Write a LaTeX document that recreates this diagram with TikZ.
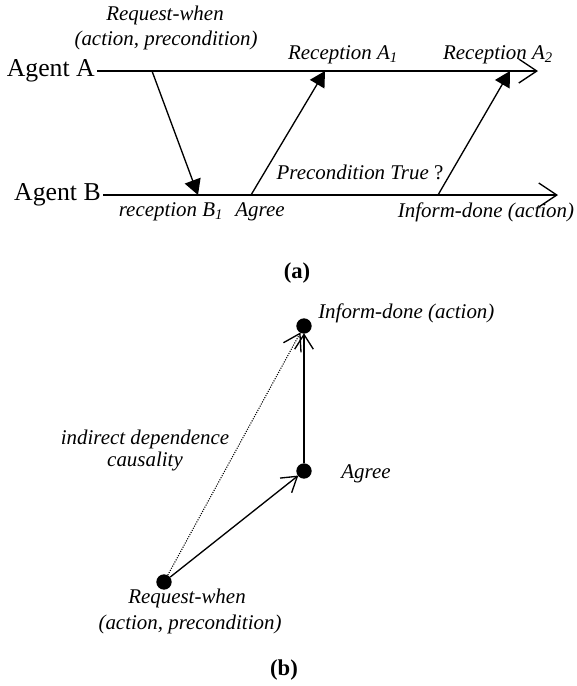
\documentclass[tikz,border=0pt]{standalone}
\usepackage{fontspec}
\setmainfont{Liberation Serif}
\usetikzlibrary{arrows.meta}

\tikzset{
  lbl/.style={inner sep=0pt, font=\fontsize{15.7pt}{17pt}\selectfont\itshape},
  agent/.style={inner sep=1.5pt, font=\fontsize{19.3pt}{21pt}\selectfont},
  caption/.style={inner sep=0pt, font=\fontsize{17pt}{19pt}\selectfont\bfseries},
  timeline/.style={line width=1pt, -{Straight Barb[length=13.5pt,width=18pt,line width=1pt]}},
  msg/.style={line width=1pt, -{Triangle[length=11.5pt,width=12.5pt]}},
  event/.style={circle, fill=black, inner sep=0pt, minimum size=11.5pt},
  dep/.style={line width=1pt, shorten >=-0.5pt, -{Straight Barb[length=11pt,width=14pt,line width=1pt]}},
  indirect/.style={line width=0.8pt, dash pattern=on 0.8pt off 1pt, shorten >=-0.5pt, -{Straight Barb[length=12pt,width=15pt,line width=1pt]}}
}

\begin{document}
\begin{tikzpicture}[x=0.75pt,y=-0.75pt]
  \useasboundingbox (0,0) rectangle (576,686);

  % ---------- (a) message exchange between the two agents ----------
  \coordinate (Aend) at (538,71);
  \coordinate (Bend) at (558,195);
  \node[agent, anchor=east] (agA) at (97,71) {Agent A};
  \node[agent, anchor=east] (agB) at (103,195) {Agent B};
  \draw[timeline] (agA.east) -- (Aend);
  \draw[timeline] (agB.east) -- (Bend);

  \coordinate (sendA)  at (152,71);
  \coordinate (recvB)  at (198,195);
  \coordinate (agreeB) at (251,195);
  \coordinate (recvA1) at (325,71);
  \coordinate (doneB)  at (438,195);
  \coordinate (recvA2) at (510,71);
  \draw[msg] (sendA) -- (recvB);
  \draw[msg] (agreeB) -- (recvA1);
  \draw[msg] (doneB) -- (recvA2);

  \node[lbl] (reqA)  at (165,15) {Request-when};
  \node[lbl] (reqA2) at (166,40) {(action, precondition)};
  \node[lbl] (ra1)   at (343,55) {Reception A\textsubscript{1}};
  \node[lbl] (ra2)   at (498,55) {Reception A\textsubscript{2}};
  \node[lbl] (pre)   at (360,172) {Precondition True \upshape ?};
  \node[lbl] (rb1)   at (171,212) {reception B\textsubscript{1}};
  \node[lbl] (agr)   at (260,212) {Agree};
  \node[lbl] (inf)   at (486,212) {Inform-done (action)};
  \node[caption] (capa) at (297,273) {(a)};

  % ---------- (b) causality graph ----------
  \node[event] (eI) at (304,326) {};
  \node[event] (eA) at (304,471) {};
  \node[event] (eR) at (164,582) {};
  \draw[dep] (eA) -- (eI);
  \draw[dep] (eR) -- (eA);
  \draw[indirect] (eR) -- (eI);

  \node[lbl, anchor=west] (lI) at (318,313) {Inform-done (action)};
  \node[lbl] (lA) at (366,474) {Agree};
  \node[lbl] (lD1) at (145,439) {indirect dependence};
  \node[lbl] (lD2) at (145,461) {causality};
  \node[lbl] (lR1) at (187,598) {Request-when};
  \node[lbl] (lR2) at (190,624) {(action, precondition)};
  \node[caption] (capb) at (284,670) {(b)};
\end{tikzpicture}
\end{document}
